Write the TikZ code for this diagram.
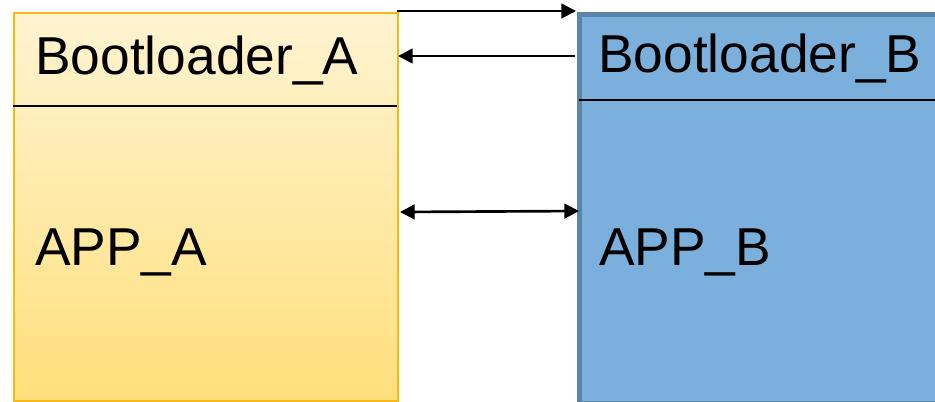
\documentclass[tikz,border=0pt]{standalone}
\usepackage{fontspec}
\setmainfont{Liberation Sans}
\usetikzlibrary{arrows.meta,calc}
\definecolor{yelTop}{HTML}{FFF4D2}
\definecolor{yelBot}{HTML}{FFDF7C}
\definecolor{yelEdge}{HTML}{F5BA14}
\definecolor{bluFill}{HTML}{7BAFDC}
\definecolor{bluEdge}{HTML}{5A84A8}
\tikzset{
  partA/.style={draw=yelEdge, line width=1.5pt, top color=yelTop, bottom color=yelBot, inner sep=0pt},
  partB/.style={draw=bluEdge, fill=bluFill, line width=3.75pt, inner sep=0pt},
  divider/.style={draw=black, line width=1.1pt},
  label/.style={font=\fontsize{40}{48}\selectfont, inner sep=0pt, anchor=base west},
  link/.style={draw=black, line width=2pt, -{Triangle[length=11pt,width=11pt]}},
  dlink/.style={draw=black, line width=2pt, {Triangle[length=11pt,width=11pt]}-{Triangle[length=11pt,width=11pt]}}
}
\begin{document}
\begin{tikzpicture}[x=0.75pt,y=-0.75pt]
  \useasboundingbox (0,0) rectangle (935,401);
  % flash partitions
  \node[partA, minimum width=384*0.75pt, minimum height=388*0.75pt, anchor=north west] (boxA) at (13,12) {};
  \node[partB, minimum width=370*0.75pt, minimum height=389*0.75pt, anchor=north west] (boxB) at (577,11.5) {};
  \coordinate (divAl) at (13,106);
  \coordinate (divAr) at (397,106);
  \coordinate (divBl) at (579,100);
  \coordinate (divBr) at (935,100);
  \draw[divider] (divAl) -- (divAr);
  \draw[divider] (divBl) -- (divBr);
  % section names
  \node[label] (bootA) at (35,74) {Bootloader\_A};
  \node[label] (appA) at (35,265) {APP\_A};
  \node[label] (bootB) at (598,72) {Bootloader\_B};
  \node[label] (appB) at (599,265) {APP\_B};
  % jumps between the two images
  \coordinate (t1) at (397,11);
  \coordinate (t2) at (576,11);
  \coordinate (m1) at (575,56);
  \coordinate (m2) at (398,56);
  \coordinate (b1) at (400,212);
  \coordinate (b2) at (579,211);
  \draw[link] (t1) -- (t2);
  \draw[link] (m1) -- (m2);
  \draw[dlink] (b1) -- (b2);
\end{tikzpicture}
\end{document}
